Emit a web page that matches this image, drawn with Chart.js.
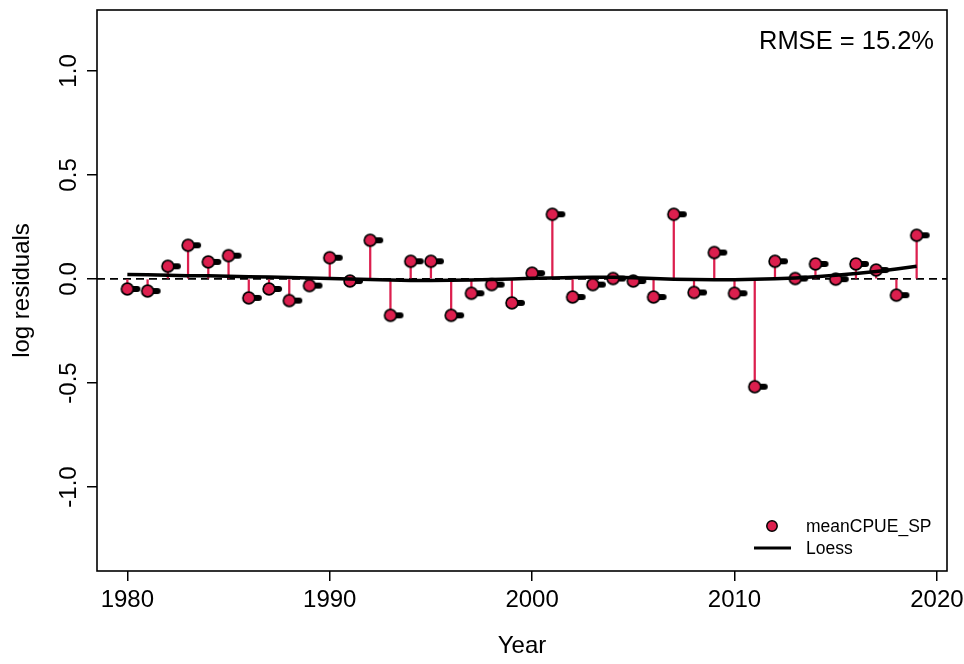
<!DOCTYPE html>
<html>
<head>
<meta charset="utf-8">
<script src="https://cdn.jsdelivr.net/npm/chart.js@4.4.1/dist/chart.umd.min.js"></script>
<style>
  html, body { margin: 0; padding: 0; background: #fff; }
  canvas { display: block; }
</style>
</head>
<body>
<canvas id="c" width="964" height="664"></canvas>
<script>
// Yearly log residuals of the CPUE index and their loess smoother
const years = [1980, 1981, 1982, 1983, 1984, 1985, 1986, 1987, 1988, 1989,
               1990, 1991, 1992, 1993, 1994, 1995, 1996, 1997, 1998, 1999,
               2000, 2001, 2002, 2003, 2004, 2005, 2006, 2007, 2008, 2009,
               2010, 2011, 2012, 2013, 2014, 2015, 2016, 2017, 2018, 2019];
const residuals = [-0.048, -0.058, 0.061, 0.162, 0.082, 0.112, -0.091, -0.048, -0.104, -0.032,
                   0.102, -0.010, 0.186, -0.175, 0.085, 0.085, -0.175, -0.069, -0.027, -0.115,
                   0.028, 0.311, -0.087, -0.027, 0.002, -0.010, -0.087, 0.311, -0.065, 0.127,
                   -0.069, -0.518, 0.085, 0.002, 0.072, -0.001, 0.072, 0.043, -0.078, 0.210];
const loessFit = [0.022, 0.020, 0.018, 0.016, 0.015, 0.013, 0.011, 0.009, 0.007, 0.004,
                  0.002, 0.000, -0.003, -0.005, -0.007, -0.007, -0.006, -0.005, -0.003, 0.000,
                  0.003, 0.005, 0.007, 0.008, 0.008, 0.006, 0.002, -0.001, -0.003, -0.004,
                  -0.004, -0.002, 0.001, 0.005, 0.011, 0.018, 0.026, 0.036, 0.048, 0.061];
const xTickValues = [1980, 1990, 2000, 2010, 2020];
const yTickValues = [-1.0, -0.5, 0.0, 0.5, 1.0];
const xLimits = [1978.5, 2020.5];
const yLimits = [-1.404, 1.293];
const seriesName = 'meanCPUE_SP';
const smootherName = 'Loess';
const rmseLabel = 'RMSE = 15.2%';

const RED = '#DC1F4E';
const FONT = '"Liberation Sans", Arial, sans-serif';

// point marker: red disc with a short black tail to its right
function makeMarker() {
  const c = document.createElement('canvas');
  c.width = 38; c.height = 18;
  const g = c.getContext('2d');
  const cx = 19, cy = 9;
  g.fillStyle = '#000';
  g.beginPath();
  if (g.roundRect) g.roundRect(cx, cy - 3, 13, 6, 3); else g.rect(cx, cy - 3, 13, 6);
  g.fill();
  g.beginPath();
  g.arc(cx, cy, 5.9, 0, Math.PI * 2);
  g.fillStyle = RED;
  g.fill();
  g.lineWidth = 1.7;
  g.strokeStyle = '#000';
  g.stroke();
  return c;
}

const residualPoints = years.map((yr, i) => ({ x: yr, y: residuals[i] }));
const stemBars = years.map((yr, i) => ({ x: yr, y: [0, residuals[i]] }));
const loessPoints = years.map((yr, i) => ({ x: yr, y: loessFit[i] }));
const zeroLine = [{ x: xLimits[0], y: 0 }, { x: xLimits[1], y: 0 }];

// frame, rotated y tick labels, RMSE note and legend
const decorations = {
  id: 'decorations',
  afterDraw(chart) {
    const ctx = chart.ctx;
    const a = chart.chartArea;
    const ys = chart.scales.y;
    ctx.save();
    ctx.strokeStyle = '#000';
    ctx.lineWidth = 1.6;
    ctx.strokeRect(a.left, a.top, a.right - a.left, a.bottom - a.top);

    ctx.fillStyle = '#000';
    ctx.font = '24px ' + FONT;
    ctx.textAlign = 'center';
    ctx.textBaseline = 'alphabetic';
    yTickValues.forEach(v => {
      const py = ys.getPixelForValue(v);
      ctx.save();
      ctx.translate(76, py);
      ctx.rotate(-Math.PI / 2);
      ctx.fillText(v.toFixed(1), 0, 0);
      ctx.restore();
    });

    ctx.font = '25.5px ' + FONT;
    ctx.textAlign = 'right';
    ctx.fillText(rmseLabel, 934, 49);

    // legend in the lower right corner
    ctx.beginPath();
    ctx.arc(772, 526, 5.2, 0, Math.PI * 2);
    ctx.fillStyle = RED;
    ctx.fill();
    ctx.lineWidth = 1.5;
    ctx.strokeStyle = '#000';
    ctx.stroke();
    ctx.beginPath();
    ctx.moveTo(754, 548);
    ctx.lineTo(791, 548);
    ctx.lineWidth = 3.2;
    ctx.stroke();
    ctx.fillStyle = '#000';
    ctx.font = '17.5px ' + FONT;
    ctx.textAlign = 'left';
    ctx.textBaseline = 'middle';
    ctx.fillText(seriesName, 806, 527);
    ctx.fillText(smootherName, 806, 549);
    ctx.restore();
  }
};

new Chart(document.getElementById('c'), {
  type: 'scatter',
  data: {
    datasets: [
      {
        type: 'line', label: smootherName, data: loessPoints,
        borderColor: '#000', borderWidth: 3.5, pointRadius: 0, tension: 0, fill: false, order: 0
      },
      {
        type: 'scatter', label: seriesName, data: residualPoints,
        pointStyle: makeMarker(), pointRadius: 6, order: 1
      },
      {
        type: 'bar', label: 'stems', data: stemBars,
        backgroundColor: RED, borderWidth: 0, barThickness: 1.6, grouped: false, order: 2
      },
      {
        type: 'line', label: 'zero', data: zeroLine,
        borderColor: '#000', borderWidth: 1.8, borderDash: [8, 5], pointRadius: 0, fill: false, order: 3
      }
    ]
  },
  options: {
    responsive: false,
    animation: false,
    devicePixelRatio: 1,
    layout: { padding: { left: 0, top: 10, right: 17, bottom: 0 } },
    plugins: { legend: { display: false }, tooltip: { enabled: false } },
    scales: {
      x: {
        type: 'linear', min: xLimits[0], max: xLimits[1], offset: false,
        afterBuildTicks: s => { s.ticks = xTickValues.map(v => ({ value: v })); },
        afterFit: s => { s.height = 93; s.paddingLeft = 0; s.paddingRight = 0; },
        ticks: {
          autoSkip: false, maxRotation: 0, minRotation: 0, padding: 5,
          color: '#000', font: { family: FONT, size: 24 },
          callback: v => String(v)
        },
        grid: { display: true, drawOnChartArea: false, drawTicks: true, tickLength: 10,
                color: '#000', lineWidth: 1.5, offset: false },
        border: { display: false },
        title: { display: true, text: 'Year', color: '#000',
                 font: { family: FONT, size: 24 }, padding: { top: 0, bottom: 3 } }
      },
      y: {
        type: 'linear', min: yLimits[0], max: yLimits[1],
        afterBuildTicks: s => { s.ticks = yTickValues.map(v => ({ value: v })); },
        afterFit: s => { s.width = 97; },
        ticks: { display: false },
        grid: { display: true, drawOnChartArea: false, drawTicks: true, tickLength: 10,
                color: '#000', lineWidth: 1.5 },
        border: { display: false },
        title: { display: true, text: 'log residuals', color: '#000',
                 font: { family: FONT, size: 24 }, padding: { top: 8, bottom: 0 } }
      }
    }
  },
  plugins: [decorations]
});
</script>
</body>
</html>
